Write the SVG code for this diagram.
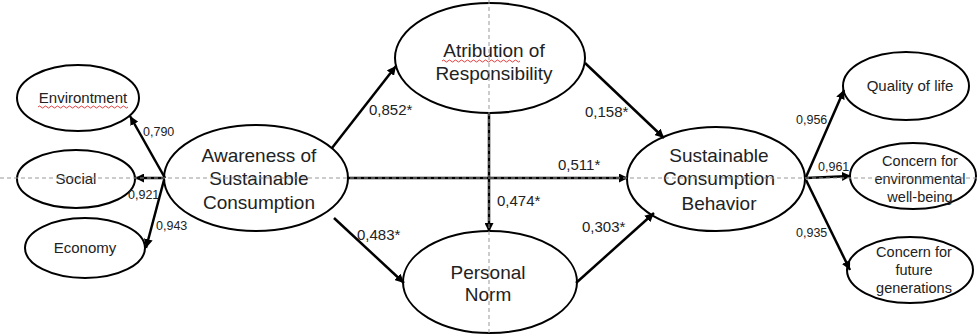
<svg xmlns="http://www.w3.org/2000/svg" width="977" height="335" viewBox="0 0 977 335">
<style>
.n{fill:#fff;stroke:#000;stroke-width:2}
.t{font-family:"Liberation Sans",Arial,sans-serif;fill:#222;text-anchor:middle}
.big{font-size:19px}
.sm{font-size:15px}
.xs{font-size:14.5px}
.lb{font-family:"Liberation Sans",Arial,sans-serif;fill:#222;font-size:15px}
.lbs{font-family:"Liberation Sans",Arial,sans-serif;fill:#222;font-size:12.5px}
.c{stroke:#000;stroke-width:2.5;fill:none;marker-end:url(#ah)}
.g{stroke:#999;stroke-width:1;stroke-dasharray:4 3;fill:none}
.sq{stroke:#e04040;stroke-width:1;fill:none}
</style>
<defs>
<marker id="ah" viewBox="0 0 10 10" refX="10" refY="5" markerWidth="9" markerHeight="9" markerUnits="userSpaceOnUse" orient="auto">
<path d="M0,0L10,5L0,10z" fill="#000"/>
</marker>
</defs>
<g id="nodes">
<g id="env"><ellipse class="n" cx="78" cy="98" rx="61" ry="33"/><text class="t sm" x="83" y="103">Environtment</text><path class="sq" d="M38,107 q1.5,-2 3,0 t3,0 t3,0 t3,0 t3,0 t3,0 t3,0 t3,0 t3,0 t3,0 t3,0 t3,0 t3,0 t3,0 t3,0 t3,0 t3,0 t3,0 t3,0 t3,0 t3,0 t3,0 t3,0 t3,0 t3,0 t3,0 t3,0 t3,0 t3,0 t3,0"/></g>
<g id="social"><ellipse class="n" cx="76" cy="179" rx="59" ry="29"/><text class="t sm" x="76" y="184">Social</text></g>
<g id="economy"><ellipse class="n" cx="85" cy="248" rx="60" ry="30"/><text class="t sm" x="85" y="253">Economy</text></g>
<g id="awareness"><ellipse class="n" cx="256" cy="178" rx="92" ry="53"/><text class="t big" x="259" y="162">Awareness of</text><text class="t big" x="259" y="185">Sustainable</text><text class="t big" x="259" y="209">Consumption</text></g>
<g id="atribution"><ellipse class="n" cx="490" cy="58" rx="95" ry="55"/><text class="t big" x="494" y="57">Atribution of</text><text class="t big" x="494" y="80">Responsibility</text><path class="sq" d="M442,61 q1.5,-2 3,0 t3,0 t3,0 t3,0 t3,0 t3,0 t3,0 t3,0 t3,0 t3,0 t3,0 t3,0 t3,0 t3,0 t3,0 t3,0 t3,0 t3,0 t3,0 t3,0 t3,0 t3,0 t3,0 t3,0 t3,0 t3,0"/></g>
<g id="personal"><ellipse class="n" cx="490" cy="282" rx="87" ry="51"/><text class="t big" x="488" y="279">Personal</text><text class="t big" x="488" y="301">Norm</text></g>
<g id="scb"><ellipse class="n" cx="716" cy="179" rx="89" ry="52"/><text class="t big" x="719" y="162">Sustainable</text><text class="t big" x="719" y="185">Consumption</text><text class="t big" x="719" y="210">Behavior</text></g>
<g id="quality"><ellipse class="n" cx="906" cy="86" rx="63" ry="34"/><text class="t sm" x="910" y="91">Quality of life</text></g>
<g id="envwb"><ellipse class="n" cx="913" cy="176" rx="63" ry="33"/><text class="t xs" x="920" y="166">Concern for</text><text class="t xs" x="920" y="184">environmental</text><text class="t xs" x="920" y="202">well-being</text></g>
<g id="future"><ellipse class="n" cx="910" cy="270" rx="63" ry="33"/><text class="t xs" x="914" y="257">Concern for</text><text class="t xs" x="914" y="275">future</text><text class="t xs" x="914" y="293">generations</text></g>
</g>
<g id="connectors">
<line class="c" x1="165" y1="178" x2="130" y2="116"/>
<line class="c" x1="165" y1="178" x2="135" y2="178"/>
<line class="c" x1="164" y1="180" x2="146" y2="248"/>
<line class="c" x1="332" y1="148" x2="396" y2="66"/>
<line class="c" x1="585" y1="63" x2="664" y2="138"/>
<line class="c" x1="489" y1="114" x2="489" y2="232"/>
<line class="c" x1="348" y1="178" x2="628" y2="178"/>
<line class="c" x1="334" y1="218" x2="404" y2="283"/>
<line class="c" x1="576" y1="283" x2="654" y2="213"/>
<line class="c" x1="806" y1="177" x2="844" y2="90"/>
<line class="c" x1="806" y1="178" x2="851" y2="176"/>
<line class="c" x1="806" y1="180" x2="850" y2="270"/>
</g>
<g id="guides">
<line class="g" x1="0" y1="178" x2="977" y2="178"/>
<line class="g" x1="489" y1="0" x2="489" y2="335"/>
</g>
<g id="labels">
<text class="lbs" x="143" y="136">0,790</text>
<text class="lbs" x="128" y="199">0,921</text>
<text class="lbs" x="156" y="230">0,943</text>
<text class="lb" x="369" y="115">0,852*</text>
<text class="lb" x="585" y="117">0,158*</text>
<text class="lb" x="497" y="206">0,474*</text>
<text class="lb" x="558" y="170">0,511*</text>
<text class="lb" x="357" y="240">0,483*</text>
<text class="lb" x="582" y="232">0,303*</text>
<text class="lbs" x="796" y="124">0,956</text>
<text class="lbs" x="818" y="171">0,961</text>
<text class="lbs" x="796" y="237">0,935</text>
</g>
</svg>
